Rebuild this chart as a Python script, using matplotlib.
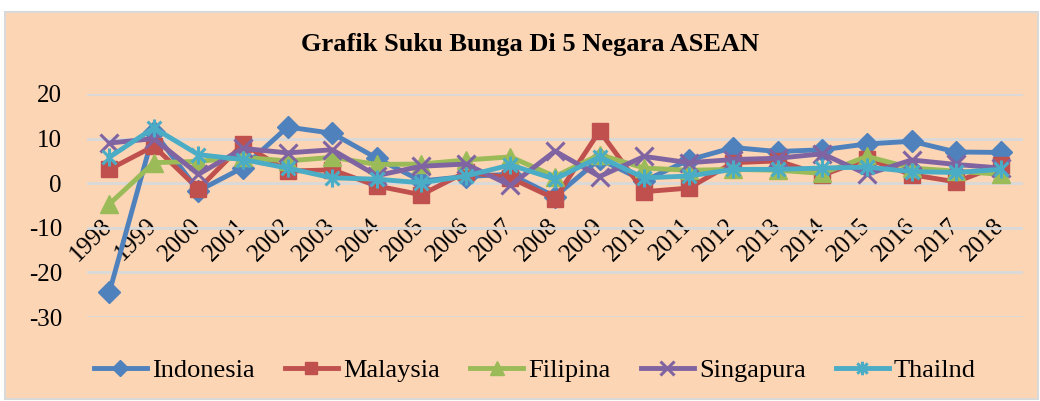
import matplotlib.pyplot as plt
import matplotlib.patches as mpatches
from matplotlib.path import Path

years = [str(y) for y in range(1998, 2019)]
indonesia = [-24.5, 11.5, -1.7, 3.5, 12.6, 11.2, 5.6, 0.5, 1.5, 2.0, -3.0,
             5.4, 0.5, 5.2, 8.0, 7.1, 7.5, 8.8, 9.4, 7.0, 6.9]
malaysia = [3.1, 8.3, -1.3, 8.8, 2.7, 3.0, -0.6, -2.6, 2.5, 1.2, -3.5,
            11.7, -1.9, -1.1, 4.6, 5.0, 1.8, 5.5, 1.9, 0.3, 4.1]
filipina = [-4.7, 4.6, 4.9, 5.8, 5.0, 5.8, 4.2, 4.3, 5.2, 5.9, 1.5,
            6.4, 3.4, 2.9, 3.1, 2.9, 2.2, 6.0, 3.4, 2.7, 2.0]
singapura = [9.0, 10.0, 2.0, 7.8, 6.8, 7.5, 1.7, 3.8, 4.3, -0.5, 7.2,
             1.5, 6.0, 4.6, 5.3, 5.6, 6.6, 2.0, 5.2, 4.2, 3.4]
thailand = [5.8, 12.4, 6.4, 5.3, 3.4, 1.2, 0.9, 0.1, 1.6, 4.1, 0.9,
            5.9, 1.2, 1.6, 3.1, 3.1, 3.4, 3.6, 2.6, 2.4, 3.1]

names = ["Indonesia", "Malaysia", "Filipina", "Singapura", "Thailnd"]
colors = ['#4F81BD', '#C0504D', '#9BBB59', '#8064A2', '#4BACC6']

# excel style star: an x with a vertical bar
star = Path([(-1, -1), (1, 1), (-1, 1), (1, -1), (0, -1.3), (0, 1.3)],
            [Path.MOVETO, Path.LINETO] * 3)
markers = [('D', 11, 1), ('s', 12, 1), ('^', 13, 1), ('x', 13, 2.2), (star, 13, 2.2)]

plt.rcParams['font.family'] = ['Liberation Serif', 'DejaVu Serif']
plt.rcParams['axes.unicode_minus'] = False

W, H = 1040, 401
fig = plt.figure(figsize=(W / 100, H / 100), dpi=100)
fig.patches.append(mpatches.Rectangle((5 / W, 2 / H), 1033 / W, 387 / H,
                                      transform=fig.transFigure, facecolor='#FCD5B5',
                                      edgecolor='#D9D9D9', lw=1.5, zorder=-10))

ax = fig.add_axes([87 / W, 1 - 317 / H, (1023 - 87) / W, (317 - 94) / H])
ax.set_facecolor('none')

x = list(range(len(years)))
for vals, name, c, (m, ms, mew) in zip([indonesia, malaysia, filipina, singapura, thailand],
                                       names, colors, markers):
    ax.plot(x, vals, color=c, lw=3.5, marker=m, ms=ms, mew=mew,
            mec=c, mfc=c, label=name, clip_on=False)

ax.set_xlim(-0.5, len(years) - 0.5)
ax.set_ylim(-30, 20)
ax.set_yticks(range(-30, 21, 10))
ax.yaxis.grid(True, color='#D9D9D9', lw=2)
ax.set_axisbelow(True)
for s in ax.spines.values():
    s.set_visible(False)
ax.spines['bottom'].set_position(('data', 0))
ax.set_xticks(x)
ax.set_xticklabels(years, rotation=45, ha='right', va='center', rotation_mode='anchor')
ax.tick_params(axis='x', length=0, pad=28, labelsize=18)
ax.tick_params(axis='y', length=0, pad=18, labelsize=18)

fig.text(530 / W, 1 - 45 / H, "Grafik Suku Bunga Di 5 Negara ASEAN",
         ha='center', va='center', fontsize=19, fontweight='bold')

fig.legend(loc='center', bbox_to_anchor=(535 / W, 1 - 370 / H), ncol=5, frameon=False,
           fontsize=19, handlelength=2.0, handletextpad=0.2, columnspacing=1.15,
           markerscale=0.75)

fig.savefig('out.png', dpi=100, facecolor='white')
